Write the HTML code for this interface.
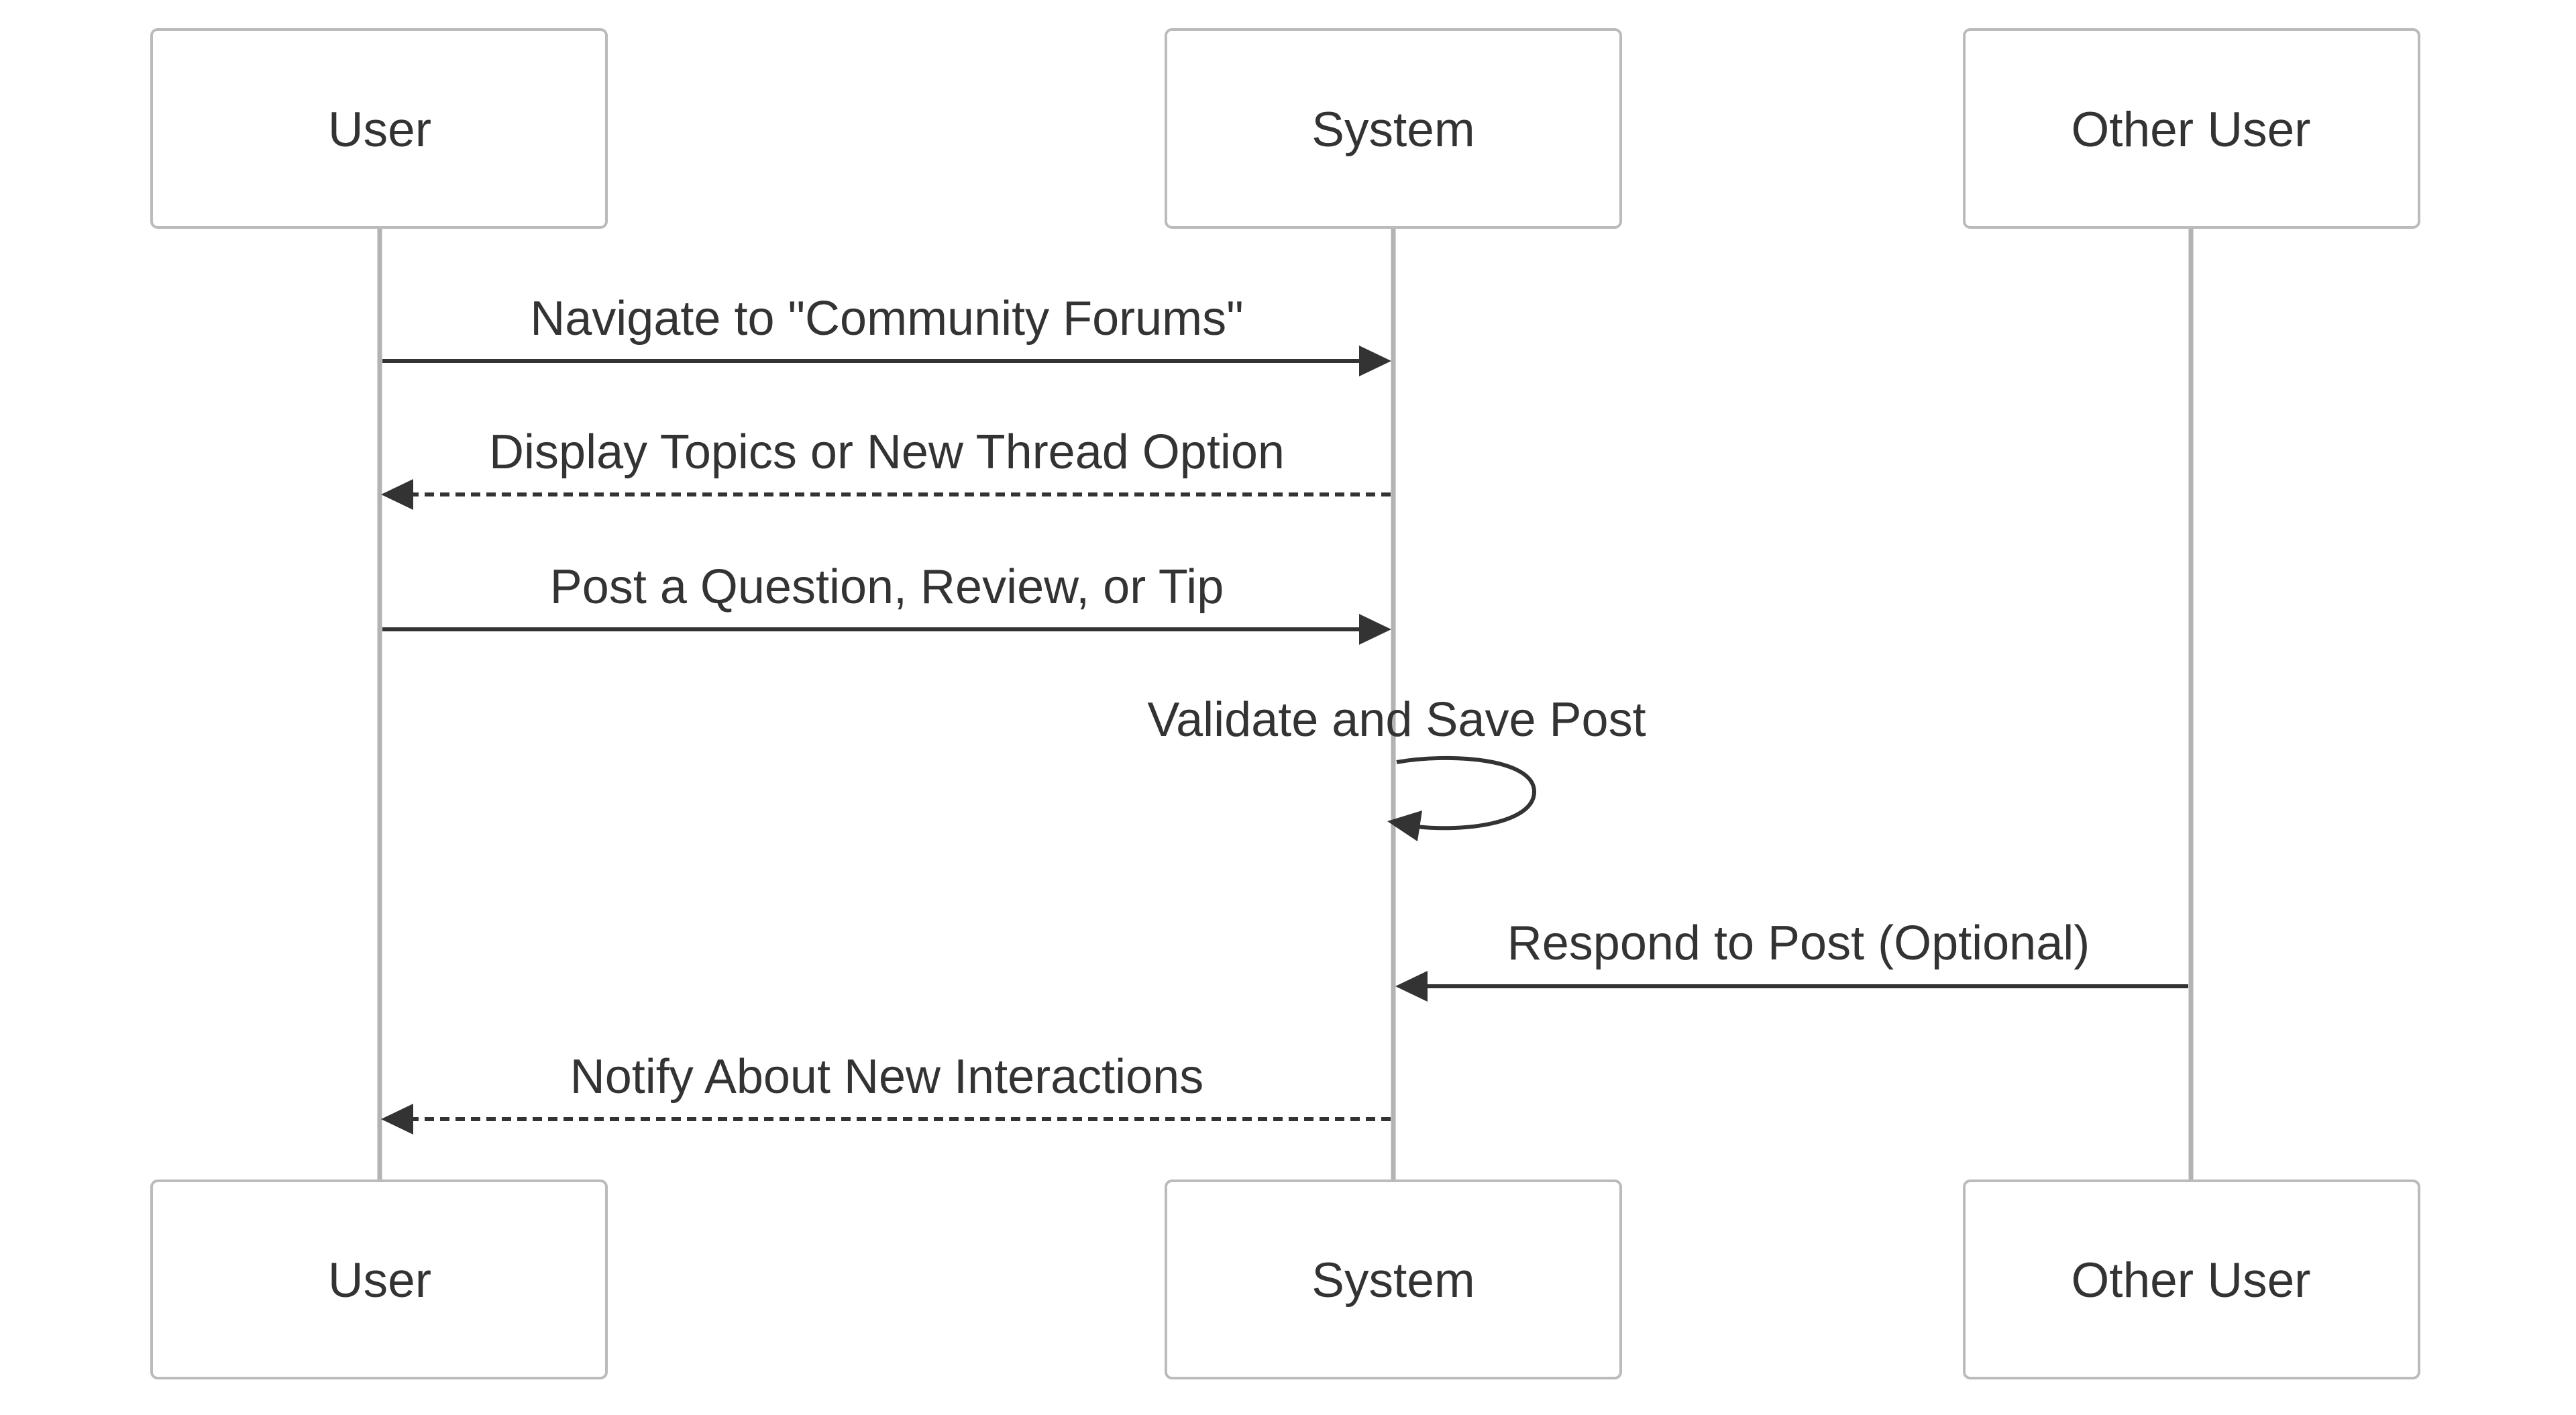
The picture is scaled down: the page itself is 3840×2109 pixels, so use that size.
<!DOCTYPE html>
<html><head><meta charset="utf-8"><style>
html,body{margin:0;padding:0;background:#fff;}
svg{display:block;}
text{font-family:"Liberation Sans",Arial,sans-serif;fill:#333;}
</style></head><body>
<svg width="3840" height="2109" viewBox="0 0 3840 2109" xmlns="http://www.w3.org/2000/svg">
<g stroke="#b3b3b3" stroke-width="7">
<line x1="566" y1="339" x2="566" y2="1760"/>
<line x1="2077" y1="339" x2="2077" y2="1760"/>
<line x1="3266" y1="339" x2="3266" y2="1760"/>
</g>
<g fill="#fff" stroke="#bbb" stroke-width="4">
<rect x="226" y="44" width="678" height="295" rx="9"/>
<rect x="1738" y="44" width="678" height="295" rx="9"/>
<rect x="2928" y="44" width="678" height="295" rx="9"/>
<rect x="226" y="1760" width="678" height="294" rx="9"/>
<rect x="1738" y="1760" width="678" height="294" rx="9"/>
<rect x="2928" y="1760" width="678" height="294" rx="9"/>
</g>
<g font-size="73" text-anchor="middle">
<text x="566" y="218">User</text>
<text x="2077" y="218">System</text>
<text x="3266" y="218">Other User</text>
<text x="566" y="1933">User</text>
<text x="2077" y="1933">System</text>
<text x="3266" y="1933">Other User</text>
</g>
<g stroke="#333" stroke-width="6" fill="none">
<line x1="570" y1="538" x2="2030" y2="538"/>
<line x1="2073" y1="737" x2="612" y2="737" stroke-dasharray="14,9"/>
<line x1="570" y1="938" x2="2030" y2="938"/>
<line x1="3262" y1="1470" x2="2124" y2="1470"/>
<line x1="2073" y1="1668" x2="612" y2="1668" stroke-dasharray="14,9"/>
<path d="M2082,1136 C2160,1122 2287,1130 2287,1180 C2287,1228 2180,1240 2112,1232"/>
</g>
<g fill="#333">
<polygon points="2074,538 2026,515 2026,561"/>
<polygon points="568,737 616,714 616,760"/>
<polygon points="2074,938 2026,915 2026,961"/>
<polygon points="2080,1470 2128,1447 2128,1493"/>
<polygon points="568,1668 616,1645 616,1691"/>
<polygon points="2068,1224 2120,1208 2113,1254"/>
</g>
<g font-size="72" text-anchor="middle">
<text x="1322" y="499">Navigate to "Community Forums"</text>
<text x="1322" y="698">Display Topics or New Thread Option</text>
<text x="1322" y="899">Post a Question, Review, or Tip</text>
<text x="2082" y="1097">Validate and Save Post</text>
<text x="2681" y="1430">Respond to Post (Optional)</text>
<text x="1322" y="1629">Notify About New Interactions</text>
</g>
</svg>
</body></html>
